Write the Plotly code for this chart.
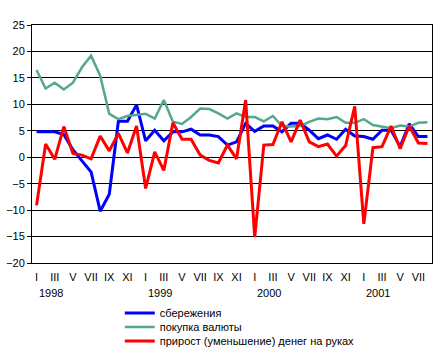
import plotly.graph_objects as go

roman = ["I", "II", "III", "IV", "V", "VI", "VII", "VIII", "IX", "X", "XI", "XII"]
years = ["1998", "1999", "2000", "2001"]
n_months = 44  # Jan 1998 .. Aug 2001

categories = [f"{roman[i % 12]} {years[i // 12]}" for i in range(n_months)]
tick_vals = categories[::2]
tick_text = [c.split(" ")[0] for c in tick_vals]

savings = [4.8, 4.8, 4.8, 4.3, 1.4, -0.7, -2.8, -10.2, -7.0, 6.8, 6.8, 9.9,
           3.1, 5.1, 3.1, 4.8, 4.8, 5.3, 4.2, 4.2, 3.9, 2.3, 2.9, 6.4,
           4.9, 5.9, 5.9, 4.8, 6.4, 6.4, 5.1, 3.5, 4.2, 3.4, 5.3, 4.0,
           3.9, 3.4, 5.1, 5.1, 2.0, 6.3, 3.9, 3.9]
currency = [16.5, 13.0, 14.1, 12.8, 14.1, 17.0, 19.2, 15.4, 8.2, 7.2, 7.8, 8.0,
            8.2, 7.3, 10.8, 6.7, 6.3, 7.6, 9.2, 9.1, 8.3, 7.3, 8.3, 7.6,
            7.6, 6.8, 7.8, 5.9, 5.8, 5.9, 6.7, 7.3, 7.2, 7.6, 6.5, 6.5,
            7.2, 6.1, 5.8, 5.5, 6.0, 5.8, 6.5, 6.6]
cash = [-9.1, 2.5, -0.4, 5.8, 0.7, 0.4, -0.3, 4.0, 1.2, 4.5, 0.8, 5.9,
        -5.9, 1.0, -2.5, 6.5, 3.4, 3.4, 0.4, -0.6, -1.1, 2.3, -0.3, 10.8,
        -15.1, 2.3, 2.4, 6.7, 2.9, 7.0, 2.9, 2.0, 2.5, 0.2, 2.2, 9.6,
        -12.6, 1.8, 2.0, 5.9, 1.6, 5.9, 2.7, 2.6]

series_names = ["сбережения", "покупка валюты", "прирост (уменьшение) денег на руках"]

FONT = "Arial, 'Liberation Sans', sans-serif"

fig = go.Figure()
fig.add_trace(go.Scatter(x=categories, y=savings, mode="lines", name=series_names[0],
                         line=dict(color="#0000FF", width=3), legend="legend"))
fig.add_trace(go.Scatter(x=categories, y=currency, mode="lines", name=series_names[1],
                         line=dict(color="#55A88B", width=2.5), legend="legend2"))
fig.add_trace(go.Scatter(x=categories, y=cash, mode="lines", name=series_names[2],
                         line=dict(color="#FF0000", width=3), legend="legend3"))

leg_common = dict(x=0.268, xref="container", yref="container", xanchor="left",
                  yanchor="middle", bgcolor="rgba(0,0,0,0)",
                  font=dict(family=FONT, size=11, color="black"))

fig.update_layout(
    width=447, height=357,
    margin=dict(l=32, r=15, t=25, b=94, autoexpand=False),
    paper_bgcolor="white", plot_bgcolor="white",
    font=dict(family=FONT, size=11, color="black"),
    showlegend=True,
    hovermode=False,
    legend=dict(y=0.123, **leg_common),
    legend2=dict(y=0.084, **leg_common),
    legend3=dict(y=0.045, **leg_common),
    xaxis=dict(type="category", categoryorder="array", categoryarray=categories,
               tickvals=tick_vals, ticktext=tick_text, showgrid=False,
               showline=True, linecolor="black", linewidth=1, mirror=True,
               ticks="", ticklabelstandoff=4, tickfont=dict(size=11),
               range=[-0.5, n_months - 0.5]),
    yaxis=dict(range=[-20, 25], dtick=5, showgrid=True, gridcolor="black", gridwidth=1,
               zeroline=True, zerolinecolor="black", zerolinewidth=1,
               showline=True, linecolor="black", linewidth=1, mirror=True,
               ticks="outside", ticklen=4, tickcolor="black", tickfont=dict(size=11)),
)

for k, yr in enumerate(years):
    fig.add_annotation(x=k * 12, y=-0.128, xref="x", yref="paper", text=yr,
                       showarrow=False, xanchor="left", yanchor="middle", xshift=0,
                       font=dict(family=FONT, size=11, color="black"))

# remove the browser's default 8px body margin so the figure fills the window exactly
fig.write_html("out.html", config={"displayModeBar": False},
               post_script="document.body.style.margin='0px';")
